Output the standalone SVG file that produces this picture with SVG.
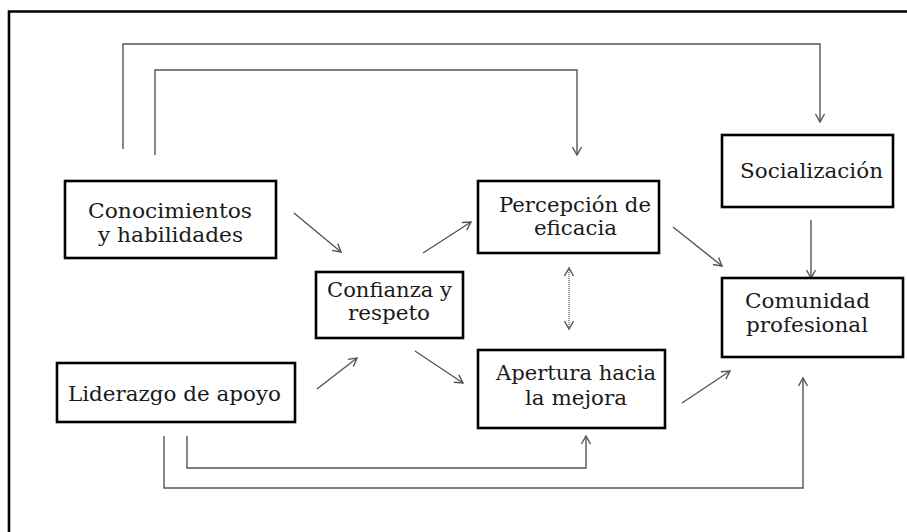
<svg xmlns="http://www.w3.org/2000/svg" width="907" height="532" viewBox="0 0 907 532">
<style>
.box{fill:#fff;stroke:#000;stroke-width:2.6}
.lbl{font-family:"DejaVu Serif","Liberation Serif",serif;font-size:20px;fill:#1a1a1a}
.con{fill:none;stroke:#555;stroke-width:1.4}
.dot{fill:none;stroke:#666;stroke-width:1.4;stroke-dasharray:1 1}
</style>
<defs>
<marker id="ah" markerUnits="userSpaceOnUse" markerWidth="12" markerHeight="12" viewBox="0 0 12 12" refX="10" refY="6" orient="auto-start-reverse">
<path d="M2,1.5 L10,6 L2,10.5" fill="none" stroke="#555" stroke-width="1.4"/>
</marker>
</defs>
<rect width="907" height="532" fill="#fff"/>
<path d="M9,534 V11.5 H910" fill="none" stroke="#000" stroke-width="2.6"/>
<g id="connectors">
<path class="con" d="M123,149 V44 H820 V122" marker-end="url(#ah)"/>
<path class="con" d="M155,155 V70 H577 V155" marker-end="url(#ah)"/>
<path class="con" d="M294,213 L341,252" marker-end="url(#ah)"/>
<path class="con" d="M317,389 L357,358" marker-end="url(#ah)"/>
<path class="con" d="M423,253 L471,222" marker-end="url(#ah)"/>
<path class="con" d="M415,351 L463,383" marker-end="url(#ah)"/>
<path class="con" d="M673,227 L722,266" marker-end="url(#ah)"/>
<path class="con" d="M682,403 L730,371" marker-end="url(#ah)"/>
<path class="con" d="M811,220 V278" marker-end="url(#ah)"/>
<path class="dot" d="M569,268 V329" marker-start="url(#ah)" marker-end="url(#ah)"/>
<path class="con" d="M187,436 V468 H586 V436" marker-end="url(#ah)"/>
<path class="con" d="M164,436 V488 H803 V378" marker-end="url(#ah)"/>
</g>
<g id="conocimientos">
<rect class="box" x="65" y="181" width="211" height="77"/>
<text class="lbl" x="88" y="218" textLength="164" lengthAdjust="spacingAndGlyphs">Conocimientos</text>
<text class="lbl" x="98" y="242" textLength="145" lengthAdjust="spacingAndGlyphs">y habilidades</text>
</g>
<g id="liderazgo">
<rect class="box" x="57" y="363" width="238" height="59"/>
<text class="lbl" x="68" y="401" textLength="213" lengthAdjust="spacingAndGlyphs">Liderazgo de apoyo</text>
</g>
<g id="confianza">
<rect class="box" x="316" y="272" width="147" height="66"/>
<text class="lbl" x="327" y="297" textLength="125" lengthAdjust="spacingAndGlyphs">Confianza y</text>
<text class="lbl" x="348" y="320" textLength="82" lengthAdjust="spacingAndGlyphs">respeto</text>
</g>
<g id="percepcion">
<rect class="box" x="478" y="181" width="181" height="72"/>
<text class="lbl" x="499" y="212" textLength="152" lengthAdjust="spacingAndGlyphs">Percepción de</text>
<text class="lbl" x="534" y="235" textLength="83" lengthAdjust="spacingAndGlyphs">eficacia</text>
</g>
<g id="apertura">
<rect class="box" x="478" y="350" width="187" height="78"/>
<text class="lbl" x="496" y="380" textLength="160" lengthAdjust="spacingAndGlyphs">Apertura hacia</text>
<text class="lbl" x="525" y="405" textLength="102" lengthAdjust="spacingAndGlyphs">la mejora</text>
</g>
<g id="socializacion">
<rect class="box" x="722" y="135" width="171" height="72"/>
<text class="lbl" x="740" y="178" textLength="143" lengthAdjust="spacingAndGlyphs">Socialización</text>
</g>
<g id="comunidad">
<rect class="box" x="722" y="278" width="181" height="79"/>
<text class="lbl" x="745" y="308" textLength="125" lengthAdjust="spacingAndGlyphs">Comunidad</text>
<text class="lbl" x="746" y="332" textLength="122" lengthAdjust="spacingAndGlyphs">profesional</text>
</g>
</svg>
